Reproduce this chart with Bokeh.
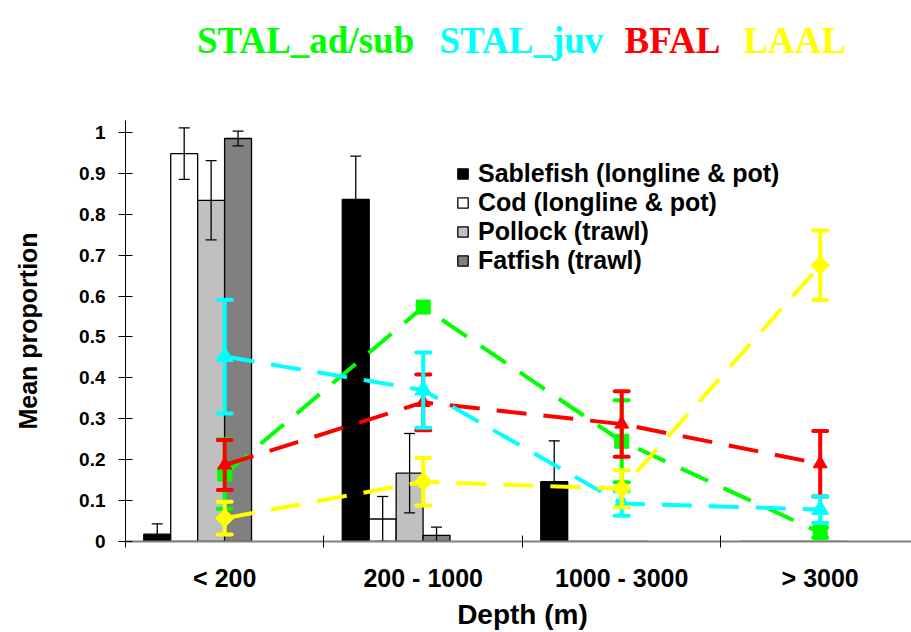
from bokeh.plotting import figure
from bokeh.layouts import column
from bokeh.models import FixedTicker, Label, Legend, LegendItem, Range1d
from bokeh.embed import file_html
from bokeh.resources import INLINE

# ---------------- data ----------------
categories = ["< 200", "200 - 1000", "1000 - 3000", "> 3000"]
y_ticks = [0, 0.1, 0.2, 0.3, 0.4, 0.5, 0.6, 0.7, 0.8, 0.9, 1]
y_tick_labels = ["0", "0.1", "0.2", "0.3", "0.4", "0.5", "0.6", "0.7", "0.8", "0.9", "1"]

bar_names = ["Sablefish (longline & pot)", "Cod (longline & pot)", "Pollock (trawl)", "Fatfish (trawl)"]
sablefish = [0.018, 0.836, 0.146, 0.0]
sablefish_err = [0.025, 0.106, 0.100, 0.0]
cod = [0.948, 0.055, 0.0, 0.0]
cod_err = [0.063, 0.055, 0.0, 0.0]
pollock = [0.834, 0.167, 0.0, 0.0]
pollock_err = [0.097, 0.097, 0.0, 0.0]
fatfish = [0.985, 0.015, 0.0, 0.0]
fatfish_err = [0.018, 0.020, 0.0, 0.0]

line_names = ["STAL_ad/sub", "STAL_juv", "BFAL", "LAAL"]
stal_ad = [0.165, 0.573, 0.245, 0.022]
stal_ad_err = [0.085, 0.0, 0.100, 0.012]
stal_juv = [0.452, 0.370, 0.093, 0.078]
stal_juv_err = [0.139, 0.092, 0.030, 0.032]
bfal = [0.187, 0.340, 0.287, 0.190]
bfal_err = [0.061, 0.068, 0.080, 0.080]
laal = [0.057, 0.146, 0.129, 0.675]
laal_err = [0.040, 0.058, 0.045, 0.085]

FONT = "Liberation Sans"
X_END = 3.96

# ---------------- title strip ----------------
top = figure(width=911, height=120, x_range=Range1d(0, X_END), y_range=Range1d(0, 120),
             output_backend="svg", toolbar_location=None, x_axis_type=None, y_axis_type=None,
             min_border_left=125, min_border_right=0, min_border_top=0, min_border_bottom=0)
top.grid.visible = False
top.outline_line_color = None
title_x = [0.36, 1.582, 2.514, 3.113]
title_cols = ["#00FF00", "#00FFFF", "#FF0000", "#FFFF00"]
for t, x, c in zip(line_names, title_x, title_cols):
    top.add_layout(Label(x=x, y=80, text=t, text_align="left", text_baseline="alphabetic",
                         text_font="Liberation Serif", text_font_style="bold",
                         text_font_size="37px", text_color=c))

# ---------------- main chart ----------------
p = figure(width=911, height=475, x_range=Range1d(0, X_END), y_range=Range1d(0, 1.029),
           output_backend="svg", toolbar_location=None,
           min_border_left=125, min_border_right=0, min_border_top=0, min_border_bottom=54)
p.grid.visible = False
p.outline_line_color = None

idx = list(range(len(categories)))
step = 0.1357
bar_series = [(sablefish, sablefish_err, "black"), (cod, cod_err, "white"),
              (pollock, pollock_err, "#C0C0C0"), (fatfish, fatfish_err, "#808080")]
bar_renderers = []
for k, (vals, errs, col) in enumerate(bar_series):
    xs = [i + 0.16 + k * step for i in idx]
    r = p.vbar(x=xs, top=vals, width=step, bottom=0, fill_color=col, line_color="black", line_width=1.3)
    bar_renderers.append(r)
for k, (vals, errs, col) in enumerate(bar_series):
    xs = [i + 0.16 + k * step for i in idx]
    ex = [x for x, e in zip(xs, errs) if e > 0]
    ev = [v for v, e in zip(vals, errs) if e > 0]
    ee = [e for e in errs if e > 0]
    up = [v + e for v, e in zip(ev, ee)]
    lo = [max(0, v - e) for v, e in zip(ev, ee)]
    p.segment(x0=ex, y0=lo, x1=ex, y1=up, line_color="black", line_width=1.3)
    p.scatter(x=ex + ex, y=up + lo, marker="dash", size=11, line_color="black", line_width=1.3)

line_series = [
    (stal_ad, stal_ad_err, "#00FF00", "square", 14, 0.0),
    (bfal, bfal_err, "#FF0000", "triangle", 14, 0.0),
    (stal_juv, stal_juv_err, "#00FFFF", "triangle", 17, 0.0),
    (laal, laal_err, "#FFFF00", "square", 13, 0.785398),
]
lx = [i + 0.5 for i in idx]
for vals, errs, col, mk, sz, ang in line_series:
    p.line(x=lx, y=vals, line_color=col, line_width=4, line_dash="30 17")
    ex = [x for x, e in zip(lx, errs) if e > 0]
    ev = [v for v, e in zip(vals, errs) if e > 0]
    ee = [e for e in errs if e > 0]
    up = [v + e for v, e in zip(ev, ee)]
    lo = [max(0, v - e) for v, e in zip(ev, ee)]
    p.segment(x0=ex, y0=lo, x1=ex, y1=up, line_color=col, line_width=4)
    p.scatter(x=ex + ex, y=up + lo, marker="dash", size=14, line_color=col, line_width=4, line_cap="round")
    p.scatter(x=lx, y=vals, marker=mk, size=sz, angle=ang, fill_color=col, line_color=col)

xa = p.xaxis[0]
xa.ticker = FixedTicker(ticks=lx, minor_ticks=idx)
xa.major_label_overrides = {x: c for x, c in zip(lx, categories)}
xa.major_tick_in = 0
xa.major_tick_out = 0
xa.minor_tick_in = 6
xa.minor_tick_out = 6
xa.minor_tick_line_color = "black"
xa.axis_line_color = "#808080"
xa.axis_line_width = 2
xa.major_label_standoff = 16
xa.major_label_text_font = FONT
xa.major_label_text_font_style = "bold"
xa.major_label_text_font_size = "25px"
xa.major_label_text_color = "black"

ya = p.yaxis[0]
ya.ticker = FixedTicker(ticks=y_ticks, minor_ticks=[])
ya.major_label_overrides = {t: s for t, s in zip(y_ticks, y_tick_labels)}
ya.major_tick_in = 7
ya.major_tick_out = 7
ya.axis_line_color = "black"
ya.major_label_standoff = 13
ya.major_label_text_font = FONT
ya.major_label_text_font_style = "bold"
ya.major_label_text_font_size = "19px"
ya.major_label_text_color = "black"
ya.axis_label = "Mean proportion"
ya.axis_label_text_font = FONT
ya.axis_label_text_font_style = "bold"
ya.axis_label_text_font_size = "25px"
ya.axis_label_text_color = "black"
ya.axis_label_standoff = 34

legend = Legend(items=[LegendItem(label=n, renderers=[r]) for n, r in zip(bar_names, bar_renderers)],
                location=(331, 266), orientation="vertical",
                glyph_width=13, glyph_height=13, label_standoff=9, spacing=0, padding=0, margin=0,
                label_text_font=FONT, label_text_font_style="bold", label_text_font_size="25px",
                label_height=22, label_text_color="black",
                border_line_color=None, background_fill_alpha=0)
p.add_layout(legend)

# ---------------- x-axis title strip ----------------
bottom = figure(width=911, height=37, x_range=Range1d(0, X_END), y_range=Range1d(0, 37),
                output_backend="svg", toolbar_location=None, x_axis_type=None, y_axis_type=None,
                min_border_left=125, min_border_right=0, min_border_top=0, min_border_bottom=0)
bottom.grid.visible = False
bottom.outline_line_color = None
bottom.add_layout(Label(x=len(categories) / 2, y=18, text="Depth (m)", text_align="center",
                        text_baseline="middle", text_font=FONT, text_font_style="bold",
                        text_font_size="28px", text_color="black"))

layout = column(top, p, bottom, spacing=0)
open("out.html", "w").write(file_html(layout, INLINE))
